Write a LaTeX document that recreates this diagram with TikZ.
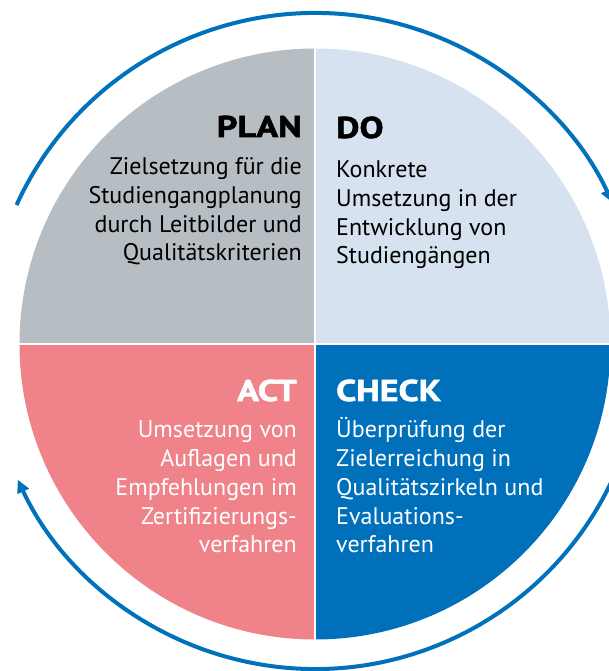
\documentclass[tikz,border=0pt]{standalone}
\usepackage{fontspec}
\setmainfont{PT Sans}
\newfontfamily\headfont{PT Sans}[FakeStretch=1.2,FakeBold=2,BoldFont={PT Sans Bold},BoldFeatures={FakeStretch=1.2,FakeBold=2}]
\usetikzlibrary{arrows.meta}
\definecolor{plangray}{HTML}{B7BEC3}
\definecolor{dolight}{HTML}{D6E2F0}
\definecolor{actpink}{HTML}{F0828A}
\definecolor{checkblue}{HTML}{0070BA}
\definecolor{ringblue}{HTML}{0072BC}
\tikzset{
  head/.style={inner sep=0pt,font=\headfont\fontsize{30}{30}\selectfont\bfseries},
  body/.style={inner sep=0pt,font=\fontsize{24}{28.8}\selectfont},
  ring/.style={draw=ringblue,line width=4pt,-{Triangle[length=13pt,width=12pt]}}
}
\begin{document}
\begin{tikzpicture}[x=1pt,y=1pt]
\useasboundingbox (0,0) rectangle (609,671);
\coordinate (c) at (315,327);
\coordinate (oc) at (315,330);
% quadrants
\fill[plangray] (c) -- ++(180:295.5) arc[start angle=180,end angle=90,radius=295.5] -- cycle;
\fill[dolight] (c) -- ++(90:295.5) arc[start angle=90,end angle=0,radius=295.5] -- cycle;
\fill[checkblue] (c) -- ++(0:295.5) arc[start angle=0,end angle=-90,radius=295.5] -- cycle;
\fill[actpink] (c) -- ++(-90:295.5) arc[start angle=-90,end angle=-180,radius=295.5] -- cycle;
\draw[white,line width=2pt] (c) ++(-300,0) -- ++(600,0);
\draw[white,line width=2pt] (c) ++(0,-300) -- ++(0,600);
% outer arrows
\draw[ring] (oc) ++(155.5:328) arc[start angle=155.5,end angle=25,radius=328];
\draw[ring] (oc) ++(-12:328) arc[start angle=-12,end angle=-155,radius=328];
% texts (base anchor = baseline of last line)
\node[head,anchor=base east] (plan) at (302,534) {PLAN};
\node[body,anchor=base east,align=right] (plantxt) at (302,410) {Zielsetzung für die\\Studiengangplanung\\durch Leitbilder und\\Qualitätskriterien};
\node[head,anchor=base west] (do) at (336,533) {DO};
\node[body,anchor=base west,align=left] (dotxt) at (336,407) {Konkrete\\Umsetzung in der\\Entwicklung von\\Studiengängen};
\node[head,anchor=base east,text=white] (act) at (297,270) {ACT};
\node[body,anchor=base east,align=right,text=white] (acttxt) at (297,118) {Umsetzung von\\Auflagen und\\Empfehlungen im\\Zertifizierungs-\\verfahren};
\node[head,anchor=base west,text=white] (check) at (336,270) {CHECK};
\node[body,anchor=base west,align=left,text=white] (checktxt) at (336,118) {Überprüfung der\\Zielerreichung in\\Qualitätszirkeln und\\Evaluations-\\verfahren};
\end{tikzpicture}
\end{document}
